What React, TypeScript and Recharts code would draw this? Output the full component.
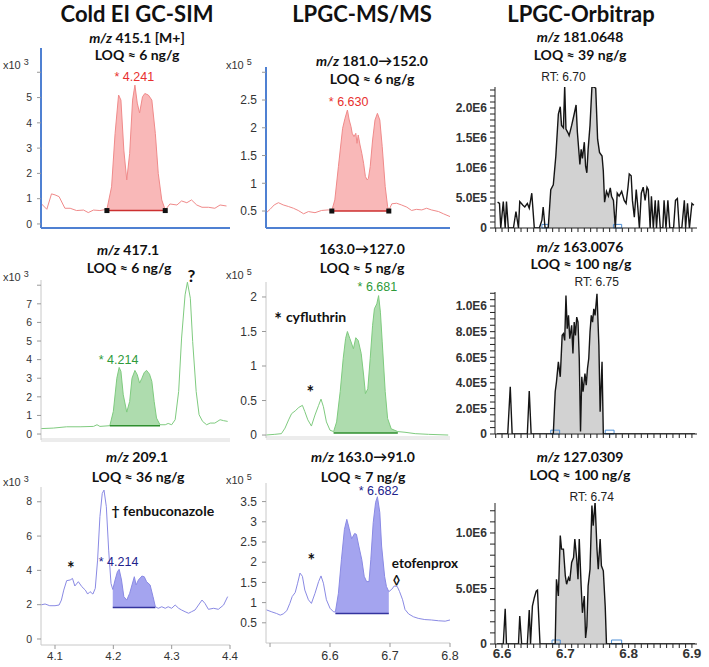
import React from 'react';
import {
  ComposedChart,
  Line,
  Area,
  XAxis,
  YAxis,
  ReferenceLine,
  ReferenceDot,
  ReferenceArea,
} from 'recharts';

// ---------- Cold EI GC-SIM (retention time, min / abundance x10^3) ----------
const coldT415 = [4.077, 4.086, 4.094, 4.1, 4.107, 4.117, 4.126, 4.137, 4.149, 4.157, 4.166, 4.177, 4.189, 4.197, 4.203, 4.209, 4.213, 4.218, 4.223, 4.228, 4.233, 4.237, 4.241, 4.245, 4.25, 4.254, 4.26, 4.266, 4.272, 4.277, 4.283, 4.289, 4.297, 4.309, 4.317, 4.326, 4.334, 4.343, 4.352, 4.363, 4.374, 4.383, 4.394];
const coldV415 = [0.79, 0.58, 1.19, 1.15, 1.08, 0.62, 0.62, 0.53, 0.55, 0.45, 0.55, 0.53, 0.58, 1.47, 3.58, 5.1, 4.9, 2.92, 1.74, 2.79, 4.9, 5.49, 4.78, 4.39, 5.03, 5.16, 5.1, 4.9, 3.58, 2.0, 0.95, 0.55, 0.79, 0.75, 0.91, 0.84, 0.95, 0.75, 0.66, 0.66, 0.62, 0.75, 0.71];
const coldFill415 = [4.189, 4.289];
const coldBase415 = 0.53;

const coldT417 = [4.075, 4.097, 4.12, 4.143, 4.166, 4.172, 4.177, 4.194, 4.2, 4.206, 4.21, 4.213, 4.217, 4.223, 4.228, 4.232, 4.237, 4.241, 4.245, 4.249, 4.253, 4.257, 4.262, 4.266, 4.27, 4.274, 4.28, 4.289, 4.294, 4.3, 4.306, 4.312, 4.317, 4.323, 4.327, 4.332, 4.336, 4.342, 4.347, 4.353, 4.36, 4.366, 4.374, 4.383, 4.389, 4.396];
const coldV417 = [0.29, 0.32, 0.39, 0.39, 0.41, 0.5, 0.41, 0.45, 1.22, 3.0, 3.58, 3.37, 2.11, 1.18, 1.75, 3.0, 3.42, 3.19, 2.74, 3.0, 3.31, 3.42, 3.22, 2.83, 1.75, 0.86, 0.5, 0.5, 0.57, 0.5, 0.77, 2.29, 5.16, 7.48, 8.16, 7.3, 4.98, 2.29, 1.04, 0.68, 0.5, 0.59, 0.59, 0.77, 0.72, 0.68];
const coldFill417 = [4.194, 4.28];
const coldBase417 = 0.45;

const coldT209 = [4.075, 4.083, 4.091, 4.1, 4.107, 4.111, 4.115, 4.12, 4.126, 4.13, 4.134, 4.14, 4.146, 4.152, 4.156, 4.16, 4.165, 4.169, 4.173, 4.177, 4.181, 4.184, 4.188, 4.192, 4.196, 4.199, 4.203, 4.207, 4.21, 4.214, 4.218, 4.223, 4.228, 4.232, 4.236, 4.239, 4.243, 4.249, 4.253, 4.257, 4.263, 4.268, 4.272, 4.277, 4.283, 4.289, 4.294, 4.3, 4.306, 4.312, 4.317, 4.323, 4.329, 4.334, 4.34, 4.346, 4.352, 4.357, 4.363, 4.372, 4.38, 4.389, 4.396];
const coldV209 = [1.98, 2.04, 1.94, 1.94, 1.98, 2.27, 2.85, 3.4, 3.44, 3.53, 3.09, 3.34, 3.05, 2.85, 2.62, 2.76, 2.62, 2.95, 4.6, 7.13, 8.49, 8.68, 7.71, 5.18, 3.24, 2.89, 3.44, 3.92, 4.06, 3.44, 2.47, 2.27, 2.66, 3.15, 3.63, 3.15, 3.44, 3.67, 3.63, 3.34, 3.15, 2.47, 1.88, 1.79, 1.88, 1.79, 1.88, 1.79, 1.98, 1.79, 1.69, 1.59, 1.5, 1.59, 1.69, 1.98, 2.27, 2.08, 1.73, 1.79, 1.73, 1.98, 2.47];
const coldFill209 = [4.199, 4.272];
const coldBase209 = 1.83;

// ---------- LPGC-MS/MS (abundance x10^5) ----------
const lpgcT152 = [6.493, 6.5, 6.507, 6.514, 6.522, 6.531, 6.539, 6.547, 6.556, 6.564, 6.575, 6.586, 6.597, 6.603, 6.608, 6.614, 6.621, 6.625, 6.629, 6.632, 6.635, 6.637, 6.64, 6.643, 6.645, 6.647, 6.65, 6.653, 6.656, 6.659, 6.662, 6.664, 6.667, 6.671, 6.675, 6.679, 6.683, 6.687, 6.692, 6.696, 6.698, 6.703, 6.711, 6.719, 6.728, 6.736, 6.744, 6.753, 6.761, 6.769, 6.781, 6.789, 6.8];
const lpgcV152 = [0.46, 0.53, 0.61, 0.65, 0.61, 0.58, 0.55, 0.51, 0.45, 0.49, 0.47, 0.51, 0.52, 0.51, 0.7, 1.3, 1.99, 2.17, 2.32, 2.14, 2.02, 1.9, 1.84, 1.9, 1.72, 1.87, 1.69, 1.54, 1.36, 1.12, 1.06, 1.09, 1.3, 1.78, 2.14, 2.26, 2.14, 1.66, 0.94, 0.58, 0.51, 0.63, 0.64, 0.61, 0.57, 0.51, 0.53, 0.52, 0.55, 0.52, 0.49, 0.45, 0.4];
const lpgcFill152 = [6.603, 6.698];
const lpgcBase152 = 0.5;

const lpgcT127 = [6.493, 6.508, 6.519, 6.525, 6.531, 6.536, 6.542, 6.548, 6.554, 6.558, 6.563, 6.569, 6.575, 6.581, 6.585, 6.589, 6.594, 6.6, 6.606, 6.611, 6.617, 6.622, 6.626, 6.629, 6.633, 6.639, 6.643, 6.647, 6.652, 6.656, 6.659, 6.663, 6.667, 6.671, 6.674, 6.678, 6.681, 6.684, 6.687, 6.692, 6.696, 6.702, 6.713, 6.725, 6.742, 6.764, 6.797];
const lpgcV127 = [0.0, 0.01, 0.02, 0.1, 0.22, 0.31, 0.35, 0.4, 0.43, 0.34, 0.22, 0.13, 0.29, 0.43, 0.52, 0.41, 0.19, 0.07, 0.05, 0.19, 0.63, 1.11, 1.4, 1.5, 1.4, 1.25, 1.41, 1.37, 1.18, 0.87, 0.6, 0.67, 1.11, 1.59, 1.83, 1.9, 2.02, 1.78, 1.35, 0.63, 0.24, 0.09, 0.05, 0.04, 0.02, 0.01, 0.0];
const lpgcFill127 = [6.606, 6.713];
const lpgcBase127 = 0.03;

const lpgcT91 = [6.494, 6.503, 6.511, 6.517, 6.522, 6.528, 6.533, 6.537, 6.542, 6.546, 6.55, 6.554, 6.558, 6.564, 6.569, 6.575, 6.581, 6.585, 6.589, 6.594, 6.6, 6.606, 6.609, 6.614, 6.619, 6.624, 6.628, 6.632, 6.636, 6.641, 6.644, 6.648, 6.653, 6.657, 6.661, 6.665, 6.668, 6.672, 6.676, 6.679, 6.683, 6.686, 6.691, 6.694, 6.698, 6.703, 6.707, 6.712, 6.716, 6.721, 6.725, 6.731, 6.739, 6.747, 6.758, 6.769, 6.781, 6.792, 6.8];
const lpgcV91 = [0.82, 0.77, 0.73, 0.69, 0.72, 0.8, 0.98, 1.15, 1.25, 1.48, 1.73, 1.65, 1.31, 1.07, 0.98, 1.23, 1.52, 1.66, 1.48, 1.07, 0.86, 0.77, 0.77, 1.23, 2.06, 2.81, 3.06, 2.83, 2.58, 2.71, 2.69, 2.4, 2.06, 1.65, 1.52, 1.52, 2.06, 2.98, 3.48, 3.62, 3.23, 2.4, 1.65, 1.4, 1.27, 1.33, 1.41, 1.4, 1.27, 1.07, 0.83, 0.72, 0.65, 0.61, 0.58, 0.57, 0.55, 0.54, 0.57];
const lpgcFill91 = [6.609, 6.698];
const lpgcBase91 = 0.73;

// ---------- LPGC-Orbitrap (intensity) ----------
const orbiT181 = [6.593, 6.596, 6.598, 6.602, 6.605, 6.607, 6.61, 6.618, 6.622, 6.626, 6.628, 6.633, 6.636, 6.64, 6.643, 6.647, 6.651, 6.655, 6.659, 6.663, 6.665, 6.668, 6.671, 6.673, 6.677, 6.681, 6.685, 6.689, 6.692, 6.694, 6.697, 6.699, 6.701, 6.704, 6.706, 6.71, 6.714, 6.717, 6.719, 6.722, 6.723, 6.725, 6.727, 6.73, 6.732, 6.734, 6.736, 6.739, 6.742, 6.745, 6.748, 6.751, 6.754, 6.758, 6.76, 6.762, 6.765, 6.768, 6.771, 6.773, 6.776, 6.779, 6.782, 6.785, 6.789, 6.793, 6.796, 6.799, 6.801, 6.804, 6.806, 6.809, 6.812, 6.814, 6.817, 6.82, 6.823, 6.826, 6.829, 6.831, 6.834, 6.836, 6.839, 6.842, 6.844, 6.847, 6.85, 6.854, 6.856, 6.859, 6.862, 6.865, 6.871, 6.874, 6.877, 6.88, 6.884, 6.888, 6.89, 6.893, 6.896, 6.9, 6.903];
const orbiV181 = [4.3e5, 4.1e5, 0, 4.4e5, 0, 4.4e5, 0, 0, 2.75e5, 0, 4.4e5, 3.8e5, 3.5e5, 4.1e5, 3.3e5, 5.8e5, 0, 0, 0, 1.3e5, 3.5e5, 0, 0, 0, 6.4e5, 7.2e5, 12.0e5, 19.0e5, 20.2e5, 17.1e5, 16.7e5, 23.7e5, 16.5e5, 15.9e5, 15.4e5, 17.1e5, 19.0e5, 20.5e5, 16.0e5, 12.0e5, 10.6e5, 13.1e5, 11.6e5, 14.3e5, 10.3e5, 9.2e5, 13.1e5, 17.1e5, 23.5e5, 23.5e5, 23.3e5, 14.8e5, 12.6e5, 12.0e5, 9.5e5, 4.3e5, 6.1e5, 5.3e5, 6.7e5, 5.3e5, 4.6e5, 0, 5.8e5, 5.3e5, 6.1e5, 4.6e5, 4.1e5, 6.8e5, 9.0e5, 8.7e5, 4.6e5, 1.8e5, 6.4e5, 4.1e5, 0, 5.8e5, 6.8e5, 4.6e5, 6.8e5, 6.4e5, 0, 5.3e5, 0, 4.6e5, 0, 4.6e5, 0, 0, 4.6e5, 0, 4.6e5, 0, 0, 4.6e5, 4.9e5, 0, 0, 4.6e5, 0, 4.1e5, 0, 4.1e5, 3.8e5];
const orbiFill181 = [6.673, 6.779];
const orbiMarks181 = [[6.663, 6.673], [6.776, 6.789]];

const orbiT163 = [6.592, 6.609, 6.613, 6.616, 6.64, 6.643, 6.646, 6.681, 6.684, 6.686, 6.689, 6.692, 6.695, 6.697, 6.699, 6.701, 6.703, 6.705, 6.707, 6.71, 6.712, 6.714, 6.716, 6.718, 6.72, 6.722, 6.724, 6.726, 6.728, 6.731, 6.733, 6.735, 6.737, 6.739, 6.741, 6.743, 6.745, 6.747, 6.75, 6.753, 6.755, 6.758, 6.76, 6.765, 6.905];
const orbiV163 = [0, 0, 3.69e5, 0, 0, 3.35e5, 0, 0, 3.3e5, 4.08e5, 5.64e5, 4.47e5, 7.71e5, 7.84e5, 7.32e5, 10.83e5, 8.23e5, 9.27e5, 7.45e5, 8.49e5, 6.29e5, 8.75e5, 7.71e5, 9.14e5, 8.75e5, 5.9e5, 0.2e5, 4.47e5, 3.3e5, 4.73e5, 3.82e5, 5.12e5, 5.9e5, 7.97e5, 9.27e5, 8.75e5, 9.79e5, 9.27e5, 10.96e5, 6.94e5, 1.74e5, 5.64e5, 0, 0, 0];
const orbiFill163 = [6.681, 6.76];
const orbiMarks163 = [[6.677, 6.691], [6.763, 6.777]];

const orbiT127 = [6.592, 6.602, 6.605, 6.607, 6.626, 6.628, 6.631, 6.64, 6.643, 6.645, 6.648, 6.651, 6.654, 6.656, 6.66, 6.684, 6.686, 6.689, 6.692, 6.694, 6.697, 6.7, 6.702, 6.705, 6.707, 6.71, 6.713, 6.715, 6.718, 6.72, 6.722, 6.725, 6.727, 6.73, 6.732, 6.734, 6.736, 6.739, 6.742, 6.744, 6.747, 6.75, 6.752, 6.755, 6.757, 6.76, 6.763, 6.765, 6.905];
const orbiV127 = [0, 0, 3.17e5, 0, 0, 2.51e5, 0, 0, 3.05e5, 0, 3.41e5, 4.17e5, 4.77e5, 4.86e5, 0, 0, 5.83e5, 4.32e5, 9.76e5, 8.55e5, 8.55e5, 6.13e5, 5.38e5, 5.98e5, 5.68e5, 7.34e5, 7.79e5, 9.46e5, 7.64e5, 5.83e5, 9.46e5, 5.23e5, 2.81e5, 4.32e5, 0.54e5, 1.6e5, 5.23e5, 6.74e5, 12.48e5, 10.66e5, 12.78e5, 8.55e5, 6.74e5, 9.46e5, 7.04e5, 6.59e5, 3.41e5, 0, 0];
const orbiFill127 = [6.684, 6.765];
const orbiMarks127 = [[6.679, 6.692], [6.773, 6.789]];

// ---------- ticks ----------
const coldTicksX = [4.1, 4.2, 4.3, 4.4];
const lpgcTicksX = [6.5, 6.6, 6.7, 6.8];
const orbiLabelsX = [6.6, 6.7, 6.8, 6.9];
const coldTicks415 = [0, 1, 2, 3, 4, 5, 6];
const coldTicks417 = [0, 1, 2, 3, 4, 5, 6, 7, 8];
const coldTicks209 = [0, 2, 4, 6, 8];
const lpgcTicks152 = [0.5, 1, 1.5, 2, 2.5, 3];
const lpgcTicks127 = [0, 0.5, 1, 1.5, 2];
const lpgcTicks91 = [0.5, 1, 1.5, 2, 2.5, 3, 3.5];
const orbiLabels181 = [0, 5e5, 1e6, 1.5e6, 2e6];
const orbiLabels163 = [0, 2e5, 4e5, 6e5, 8e5, 1e6];
const orbiLabels127 = [0, 5e5, 1e6];

const ARIAL = "'Liberation Sans', Arial, sans-serif";
const LATO = "Lato, 'Open Sans', sans-serif";

const RED = { line: '#f08a8a', area: '#f9b8b8', base: '#cc3030', text: '#e8302e' };
const GREEN = { line: '#7fcb7f', area: '#aedcae', base: '#2f8f2f', text: '#2e9a3a' };
const BLUE = { line: '#8a8ae4', area: '#a4a4ef', base: '#34349e', text: '#22228c' };
const ORBI = { line: '#151515', area: '#d2d2d2' };
const AXIS_BLUE = '#4f80d2';

const steps = (from: number, to: number, step: number) =>
  Array.from({ length: Math.round((to - from) / step) + 1 }, (_, i) => +(from + i * step).toFixed(6));

const near = (list: number[], v: number) => list.some((x) => Math.abs(x - v) < 1e-6);
const plain = (hide: number[]) => (v: number) => (near(hide, v) ? '' : String(v));
const sci = (labels: number[]) => (v: number) => {
  if (!near(labels, v)) return '';
  if (v === 0) return '0';
  return v >= 1e6 ? `${(v / 1e6).toFixed(1)}E6` : `${(v / 1e5).toFixed(1)}E5`;
};
const oneDec = (labels: number[]) => (v: number) => (near(labels, v) ? v.toFixed(1) : '');

interface PanelProps {
  x: number; y: number; w: number; h: number;
  yw: number; mt: number; mr: number; xh: number;
  times: number[]; values: number[]; fillRange: number[]; base: number;
  xDomain: [number, number]; yDomain: [number, number];
  xTicks?: number[]; yTicks: number[];
  xFmt?: (v: number) => string; yFmt?: (v: number) => string;
  colors: { line: string; area: string };
  lineWidth?: number;
  xAxisLine: any; xTickLine?: any; xTick?: any; xTickSize?: number; xTickMargin?: number;
  yAxisLine: any; yTickLine: any; yTick: any; yTickSize?: number; yTickMargin?: number;
  children?: React.ReactNode;
}

function Panel(p: PanelProps) {
  const rows = p.times.map((t, i) => ({
    t,
    v: p.values[i],
    f: t >= p.fillRange[0] - 1e-6 && t <= p.fillRange[1] + 1e-6 ? p.values[i] : null,
  }));
  return (
    <div style={{ position: 'absolute', left: p.x - p.yw, top: p.y - p.mt }}>
      <ComposedChart
        width={p.w + p.yw + p.mr}
        height={p.h + p.mt + p.xh}
        data={rows}
        margin={{ top: p.mt, right: p.mr, bottom: 0, left: 0 }}
      >
        <XAxis
          type="number"
          dataKey="t"
          domain={p.xDomain}
          allowDataOverflow
          ticks={p.xTicks}
          interval={0}
          height={p.xh}
          axisLine={p.xAxisLine}
          tickLine={p.xTickLine ?? false}
          tickSize={p.xTickSize ?? 4}
          tickMargin={p.xTickMargin ?? 2}
          tick={p.xTick ?? false}
          tickFormatter={p.xFmt}
        />
        <YAxis
          type="number"
          domain={p.yDomain}
          allowDataOverflow
          ticks={p.yTicks}
          interval={0}
          width={p.yw}
          axisLine={p.yAxisLine}
          tickLine={p.yTickLine}
          tickSize={p.yTickSize ?? 4}
          tickMargin={p.yTickMargin ?? 5}
          tick={p.yTick}
          tickFormatter={p.yFmt}
        />
        <Area
          type="linear"
          dataKey="f"
          baseValue={p.base}
          stroke="none"
          fill={p.colors.area}
          fillOpacity={1}
          dot={false}
          activeDot={false}
          isAnimationActive={false}
        />
        <Line
          type="linear"
          dataKey="v"
          stroke={p.colors.line}
          strokeWidth={p.lineWidth ?? 1}
          dot={false}
          activeDot={false}
          isAnimationActive={false}
        />
        {p.children}
      </ComposedChart>
    </div>
  );
}

interface NoteOpt { color?: string; size?: number; weight?: string | number; anchor?: string; family?: string }

const note = (key: string, x: number, y: number, content: React.ReactNode, o: NoteOpt = {}) => (
  <ReferenceDot
    key={key}
    x={x}
    y={y}
    r={0}
    ifOverflow="visible"
    shape={(s: any) => (
      <text
        x={s.cx}
        y={s.cy}
        textAnchor={(o.anchor ?? 'middle') as any}
        dominantBaseline="central"
        fill={o.color ?? '#111'}
        fontSize={o.size ?? 12.5}
        fontWeight={o.weight ?? 'normal'}
        fontFamily={o.family ?? ARIAL}
      >
        {content}
      </text>
    )}
  />
);

const bold = { color: '#111', weight: 700, family: LATO, size: 14 };
const star = (key: string, x: number, y: number) =>
  note(key, x, y, <tspan dy="0.2em">*</tspan>, { ...bold, size: 18 });

const baseline = (key: string, range: number[], y: number, color: string, squares: boolean) => [
  <ReferenceLine
    key={key}
    segment={[{ x: range[0], y }, { x: range[1], y }]}
    stroke={color}
    strokeWidth={1.5}
    ifOverflow="visible"
  />,
  ...(squares
    ? range.map((x, i) => (
        <ReferenceDot
          key={`${key}-sq${i}`}
          x={x}
          y={y}
          r={3}
          ifOverflow="visible"
          shape={(s: any) => <rect x={s.cx - 2.5} y={s.cy - 2.5} width={5} height={5} fill="#111" />}
        />
      ))
    : []),
];

const marks = (key: string, list: number[][], top: number) =>
  list.map((m, i) => (
    <ReferenceArea
      key={`${key}${i}`}
      x1={m[0]}
      x2={m[1]}
      y1={0}
      y2={top}
      fill="none"
      stroke="#4d8fd6"
      strokeWidth={1}
      ifOverflow="visible"
    />
  ));

function Caption({ x, y, size = 14, children }: { x: number; y: number; size?: number; children: React.ReactNode }) {
  return (
    <div
      style={{
        position: 'absolute',
        left: x,
        top: y,
        transform: 'translate(-50%, -50%)',
        whiteSpace: 'nowrap',
        fontFamily: LATO,
        fontWeight: 700,
        fontSize: size,
        lineHeight: 1,
        color: '#111',
      }}
    >
      {children}
    </div>
  );
}

function Scale({ x, y, exp }: { x: number; y: number; exp: number }) {
  return (
    <div
      style={{
        position: 'absolute',
        left: x,
        top: y,
        transform: 'translateY(-50%)',
        whiteSpace: 'nowrap',
        fontFamily: ARIAL,
        fontSize: 11,
        lineHeight: 1,
        color: '#333',
      }}
    >
      x10 <span style={{ fontSize: 9, position: 'relative', top: -4 }}>{exp}</span>
    </div>
  );
}

const mz = <i>m/z</i>;

// shared axis looks
const coldDomX: [number, number] = [4.076, 4.4];
const lpgcDomX: [number, number] = [6.4933, 6.8];
const orbiDomX: [number, number] = [6.5889, 6.908];
const orbiTicksX = steps(6.59, 6.9, 0.01);

const col1Y = { fontSize: 10.5, fill: '#333', fontFamily: ARIAL };
const col2Y = { fontSize: 12, fill: '#333', fontFamily: ARIAL };
const col3Y = { fontSize: 12, fill: '#333', fontFamily: ARIAL, fontWeight: 700 };
const col3X = { fontSize: 13.5, fill: '#333', fontFamily: ARIAL, fontWeight: 700 };
const greyTick = { stroke: '#999' };
const blackLine = { stroke: '#222', strokeWidth: 1 };
const noLabel = () => '';

export default function App() {
  return (
    <div style={{ position: 'absolute', left: 0, top: 0, width: 709, height: 667, background: '#fff', overflow: 'hidden' }}>
      <Caption x={137} y={14} size={22}>Cold EI GC-SIM</Caption>
      <Caption x={362} y={14} size={22}>LPGC-MS/MS</Caption>
      <Caption x={581} y={14} size={22}>LPGC-Orbitrap</Caption>

      <Caption x={137} y={38}>{mz} 415.1 [M+]</Caption>
      <Caption x={137} y={55}>LOQ ≈ 6 ng/g</Caption>
      <Caption x={372} y={61}>{mz} 181.0→152.0</Caption>
      <Caption x={372} y={79}>LOQ ≈ 6 ng/g</Caption>
      <Caption x={580} y={37}>{mz} 181.0648</Caption>
      <Caption x={580} y={55}>LOQ ≈ 39 ng/g</Caption>

      <Caption x={128} y={250}>{mz} 417.1</Caption>
      <Caption x={129} y={268}>LOQ ≈ 6 ng/g</Caption>
      <Caption x={362} y={249}>163.0→127.0</Caption>
      <Caption x={362} y={268}>LOQ ≈ 5 ng/g</Caption>
      <Caption x={580} y={247}>{mz} 163.0076</Caption>
      <Caption x={581} y={264}>LOQ ≈ 100 ng/g</Caption>

      <Caption x={137} y={457}>{mz} 209.1</Caption>
      <Caption x={138} y={477}>LOQ ≈ 36 ng/g</Caption>
      <Caption x={363} y={457}>{mz} 163.0→91.0</Caption>
      <Caption x={363} y={477}>LOQ ≈ 7 ng/g</Caption>
      <Caption x={580} y={457}>{mz} 127.0309</Caption>
      <Caption x={580} y={475}>LOQ ≈ 100 ng/g</Caption>

      <Scale x={3} y={65} exp={3} />
      <Scale x={3} y={277} exp={3} />
      <Scale x={3} y={482} exp={3} />
      <Scale x={226} y={65} exp={5} />
      <Scale x={226} y={275} exp={5} />
      <Scale x={226} y={480} exp={5} />

      {/* ---------- row 1 ---------- */}
      <Panel
        x={41} y={48} w={189} h={180} yw={41} mt={8} mr={8} xh={4}
        times={coldT415} values={coldV415} fillRange={coldFill415} base={coldBase415}
        xDomain={coldDomX} yDomain={[-0.16, 6.96]} yTicks={coldTicks415} yFmt={plain([6])}
        colors={RED}
        xAxisLine={{ stroke: AXIS_BLUE, strokeWidth: 2 }}
        yAxisLine={{ stroke: AXIS_BLUE, strokeWidth: 2 }} yTickLine={greyTick} yTick={col1Y}
      >
        {baseline('b415', coldFill415, coldBase415, RED.base, true)}
        {note('n415', 4.236, 5.82, '* 4.241', { color: RED.text })}
      </Panel>

      <Panel
        x={266} y={67} w={184} h={161} yw={40} mt={10} mr={10} xh={4}
        times={lpgcT152} values={lpgcV152} fillRange={lpgcFill152} base={lpgcBase152}
        xDomain={lpgcDomX} yDomain={[0.194, 3.095]} yTicks={lpgcTicks152} yFmt={plain([3])}
        colors={RED}
        xAxisLine={{ stroke: AXIS_BLUE, strokeWidth: 2 }}
        yAxisLine={{ stroke: AXIS_BLUE, strokeWidth: 2 }} yTickLine={greyTick} yTick={col2Y}
      >
        {baseline('b152', lpgcFill152, lpgcBase152, RED.base, true)}
        {note('n152', 6.631, 2.47, '* 6.630', { color: RED.text })}
      </Panel>

      <Panel
        x={495} y={87} w={202} h={141} yw={55} mt={16} mr={8} xh={6}
        times={orbiT181} values={orbiV181} fillRange={orbiFill181} base={0}
        xDomain={orbiDomX} yDomain={[0, 2.35e6]} xTicks={orbiTicksX} xFmt={noLabel}
        yTicks={steps(0, 2.3e6, 1e5)} yFmt={sci(orbiLabels181)}
        colors={ORBI} lineWidth={1.4}
        xAxisLine={blackLine} xTickLine={blackLine} xTickSize={4} xTick={col3X}
        yAxisLine={blackLine} yTickLine={blackLine} yTick={col3Y} yTickSize={5} yTickMargin={3}
      >
        {marks('m181', orbiMarks181, 0.6e5)}
        {note('rt181', 6.697, 2.525e6, 'RT: 6.70', { color: '#222', size: 12 })}
      </Panel>

      {/* ---------- row 2 ---------- */}
      <Panel
        x={41} y={280} w={189} h={160} yw={41} mt={14} mr={8} xh={4}
        times={coldT417} values={coldV417} fillRange={coldFill417} base={coldBase417}
        xDomain={coldDomX} yDomain={[-0.32, 8.28]} yTicks={coldTicks417} yFmt={plain([8])}
        colors={GREEN}
        xAxisLine={{ stroke: '#ececec', strokeWidth: 4 }}
        yAxisLine={{ stroke: '#c8c8c8' }} yTickLine={greyTick} yTick={col1Y}
      >
        {baseline('b417', coldFill417, coldBase417, GREEN.base, false)}
        {note('n417', 4.209, 3.99, '* 4.214', { color: GREEN.text })}
        {note('q417', 4.334, 8.52, '?', { ...bold, size: 17 })}
      </Panel>

      <Panel
        x={266} y={282} w={184} h={156} yw={40} mt={8} mr={10} xh={4}
        times={lpgcT127} values={lpgcV127} fillRange={lpgcFill127} base={lpgcBase127}
        xDomain={lpgcDomX} yDomain={[-0.043, 2.217]} yTicks={lpgcTicks127} yFmt={plain([])}
        colors={GREEN}
        xAxisLine={{ stroke: '#ececec', strokeWidth: 4 }}
        yAxisLine={{ stroke: '#c8c8c8' }} yTickLine={greyTick} yTick={col2Y}
      >
        {baseline('b127', lpgcFill127, lpgcBase127, GREEN.base, false)}
        {note('n127', 6.679, 2.14, '* 6.681', { color: GREEN.text })}
        {note(
          'cyf',
          6.507,
          1.73,
          <>
            <tspan fontSize={18} dy="0.2em">*</tspan>
            <tspan dx={4} dy="-0.2em">cyfluthrin</tspan>
          </>,
          { ...bold, anchor: 'start' },
        )}
        {star('s127', 6.567, 0.68)}
      </Panel>

      <Panel
        x={495} y={292} w={202} h={142} yw={55} mt={18} mr={8} xh={6}
        times={orbiT163} values={orbiV163} fillRange={orbiFill163} base={0}
        xDomain={orbiDomX} yDomain={[0, 1.11e6]} xTicks={orbiTicksX} xFmt={noLabel}
        yTicks={steps(0, 1.1e6, 5e4)} yFmt={sci(orbiLabels163)}
        colors={ORBI} lineWidth={1.4}
        xAxisLine={blackLine} xTickLine={blackLine} xTickSize={4} xTick={col3X}
        yAxisLine={blackLine} yTickLine={blackLine} yTick={col3Y} yTickSize={5} yTickMargin={3}
      >
        {marks('m163', orbiMarks163, 0.3e5)}
        {note('rt163', 6.7496, 1.1875e6, 'RT: 6.75', { color: '#222', size: 12 })}
      </Panel>

      {/* ---------- row 3 ---------- */}
      <Panel
        x={41} y={487} w={189} h={158} yw={41} mt={6} mr={10} xh={22}
        times={coldT209} values={coldV209} fillRange={coldFill209} base={coldBase209}
        xDomain={coldDomX} yDomain={[-0.35, 8.86]} yTicks={coldTicks209} yFmt={plain([])}
        xTicks={coldTicksX} xFmt={oneDec(coldTicksX)}
        colors={BLUE}
        xAxisLine={{ stroke: '#c8c8c8' }} xTickLine={greyTick} xTickSize={4} xTickMargin={3}
        xTick={{ fontSize: 11.5, fill: '#333', fontFamily: ARIAL }}
        yAxisLine={{ stroke: '#c8c8c8' }} yTickLine={greyTick} yTick={col1Y}
      >
        {baseline('b209', coldFill209, coldBase209, BLUE.base, false)}
        {note('n209', 4.209, 4.5, '* 4.214', { color: BLUE.text })}
        {star('s209', 4.127, 4.37)}
        {note('fen', 4.197, 7.48, '† fenbuconazole', { ...bold, anchor: 'start' })}
      </Panel>

      <Panel
        x={266} y={483} w={184} h={160} yw={40} mt={6} mr={40} xh={24}
        times={lpgcT91} values={lpgcV91} fillRange={lpgcFill91} base={lpgcBase91}
        xDomain={lpgcDomX} yDomain={[0, 3.96]} yTicks={lpgcTicks91} yFmt={plain([])}
        xTicks={lpgcTicksX} xFmt={oneDec([6.6, 6.7, 6.8])}
        colors={BLUE}
        xAxisLine={{ stroke: '#c8c8c8' }} xTickLine={greyTick} xTickSize={4} xTickMargin={4}
        xTick={{ fontSize: 12.5, fill: '#333', fontFamily: ARIAL }}
        yAxisLine={{ stroke: '#c8c8c8' }} yTickLine={greyTick} yTick={col2Y}
      >
        {baseline('b91', lpgcFill91, lpgcBase91, BLUE.base, false)}
        {note('n91', 6.681, 3.77, '* 6.682', { color: BLUE.text })}
        {star('s91', 6.569, 2.15)}
        {note('eto', 6.703, 1.97, 'etofenprox', { ...bold, size: 13.5, anchor: 'start' })}
        {note('dia', 6.711, 1.57, '◊', { ...bold, size: 13 })}
      </Panel>

      <Panel
        x={495} y={503} w={202} h={141} yw={55} mt={14} mr={8} xh={22}
        times={orbiT127} values={orbiV127} fillRange={orbiFill127} base={0}
        xDomain={orbiDomX} yDomain={[0, 1.27e6]} xTicks={orbiTicksX} xFmt={oneDec(orbiLabelsX)}
        yTicks={steps(0, 1.2e6, 1e5)} yFmt={sci(orbiLabels127)}
        colors={ORBI} lineWidth={1.4}
        xAxisLine={blackLine} xTickLine={blackLine} xTickSize={4} xTickMargin={0}
        xTick={col3X}
        yAxisLine={blackLine} yTickLine={blackLine} yTick={col3Y} yTickSize={5} yTickMargin={3}
      >
        {marks('m127', orbiMarks127, 0.36e5)}
        {note('rt127', 6.7417, 1.324e6, 'RT: 6.74', { color: '#222', size: 12 })}
      </Panel>
    </div>
  );
}
